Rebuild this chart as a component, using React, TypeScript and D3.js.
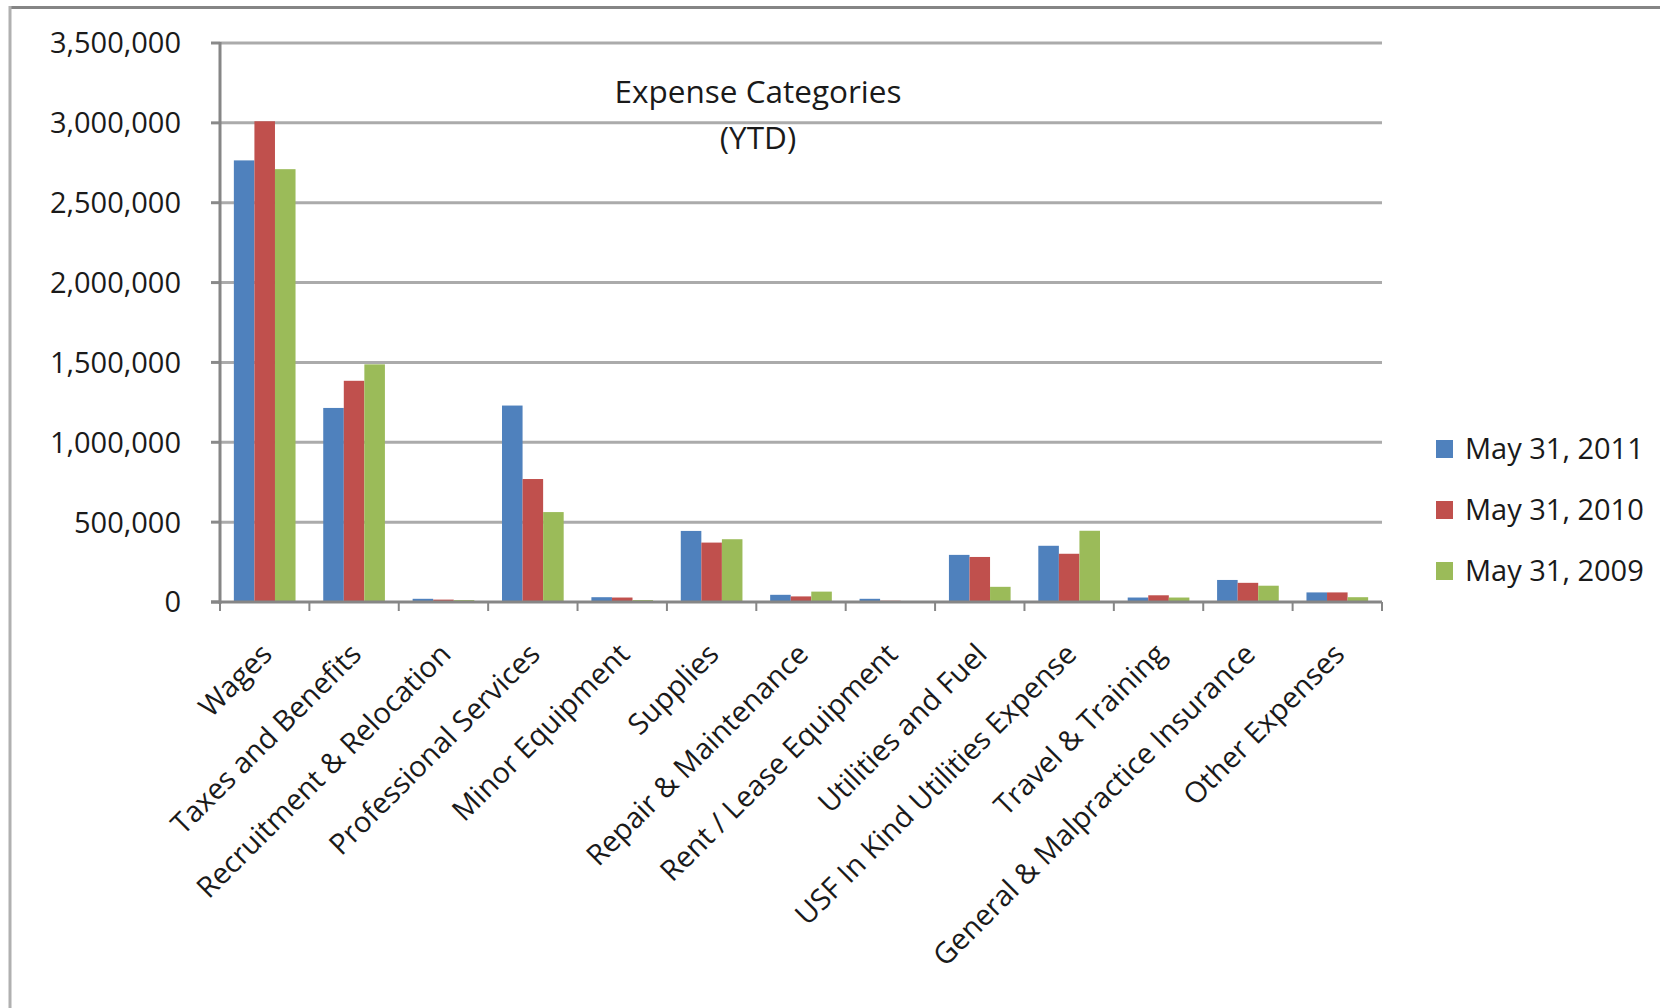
import React from "react";
import * as d3 from "d3";

const categories = [
  "Wages",
  "Taxes and Benefits",
  "Recruitment & Relocation",
  "Professional Services",
  "Minor Equipment",
  "Supplies",
  "Repair & Maintenance",
  "Rent / Lease Equipment",
  "Utilities and Fuel",
  "USF In Kind Utilities Expense",
  "Travel & Training",
  "General & Malpractice Insurance",
  "Other Expenses",
];

const seriesNames = ["May 31, 2011", "May 31, 2010", "May 31, 2009"];
const seriesColors = ["#4F81BD", "#C0504D", "#9BBB59"];

const may2011 = [2765000, 1215000, 20000, 1230000, 30000, 445000, 45000, 20000, 295000, 352000, 28000, 138000, 60000];
const may2010 = [3010000, 1385000, 15000, 770000, 28000, 372000, 35000, 8000, 282000, 302000, 42000, 120000, 60000];
const may2009 = [2710000, 1488000, 12000, 563000, 12000, 393000, 65000, 3000, 95000, 446000, 28000, 102000, 30000];

const seriesValues = [may2011, may2010, may2009];
const yTicks = [0, 500000, 1000000, 1500000, 2000000, 2500000, 3000000, 3500000];
const titleLines = ["Expense Categories", "(YTD)"];

const W = 1669;
const H = 1008;
const FONT = "'Open Sans', 'Noto Sans', sans-serif";

export default function App() {
  const plotLeft = 220;
  const plotRight = 1382;
  const plotTop = 43;
  const plotBottom = 602;

  const x0 = d3.scaleBand<string>().domain(categories).range([plotLeft, plotRight]).paddingInner(0).paddingOuter(0);
  const bw = x0.bandwidth();
  const x1 = d3
    .scaleBand<number>()
    .domain(seriesNames.map((_, i) => i))
    .range([bw * 0.155, bw * 0.845])
    .padding(0);
  const y = d3.scaleLinear().domain([0, 3500000]).range([plotBottom, plotTop]);
  const fmt = d3.format(",");

  const boundaries = categories.map((c) => x0(c) as number).concat([plotRight]);

  return (
    <svg
      width={W}
      height={H}
      viewBox={`0 0 ${W} ${H}`}
      style={{ position: "absolute", left: 0, top: 0, background: "#fff" }}
      fontFamily={FONT}
    >
      <rect x={0} y={0} width={W} height={H} fill="#fff" />
      {/* outer frame */}
      <line x1={9} x2={1660} y1={7.5} y2={7.5} stroke="#858585" strokeWidth={3} />
      <line x1={10} x2={10} y1={6} y2={1008} stroke="#b0b0b0" strokeWidth={3} />

      {/* gridlines and y ticks */}
      {yTicks.map((t) => (
        <g key={t}>
          {t > 0 && (
            <line x1={plotLeft} x2={plotRight} y1={y(t)} y2={y(t)} stroke="#ababab" strokeWidth={3} />
          )}
          <line x1={plotLeft - 9} x2={plotLeft} y1={y(t)} y2={y(t)} stroke="#8a8a8a" strokeWidth={3} />
          <text
            x={181}
            y={y(t)}
            dy="0.36em"
            textAnchor="end"
            fontSize={29}
            fill="#1a1a1a"
          >
            {fmt(t)}
          </text>
        </g>
      ))}

      {/* bars */}
      {categories.map((c, ci) => (
        <g key={c} transform={`translate(${x0(c)},0)`}>
          {seriesValues.map((vals, si) => (
            <rect
              key={si}
              x={x1(si) as number}
              y={y(vals[ci])}
              width={x1.bandwidth()}
              height={plotBottom - y(vals[ci])}
              fill={seriesColors[si]}
            />
          ))}
        </g>
      ))}

      {/* axes */}
      <line x1={plotLeft} x2={plotLeft} y1={plotTop - 1} y2={plotBottom + 2} stroke="#868686" strokeWidth={3} />
      <line x1={plotLeft - 9} x2={plotRight} y1={plotBottom} y2={plotBottom} stroke="#868686" strokeWidth={3} />
      {boundaries.map((bx, i) => (
        <line key={i} x1={bx} x2={bx} y1={plotBottom} y2={plotBottom + 9} stroke="#868686" strokeWidth={2} />
      ))}

      {/* category labels */}
      {categories.map((c) => {
        const cx = (x0(c) as number) + bw / 2;
        return (
          <text
            key={c}
            transform={`translate(${cx + 9},${656}) rotate(-45)`}
            textAnchor="end"
            fontSize={29}
            fill="#1a1a1a"
          >
            {c}
          </text>
        );
      })}

      {/* title */}
      <text x={758} y={103} textAnchor="middle" fontSize={31.5} fill="#1a1a1a">
        {titleLines[0]}
      </text>
      <text x={758} y={149} textAnchor="middle" fontSize={31.5} fill="#1a1a1a">
        {titleLines[1]}
      </text>

      {/* legend */}
      {seriesNames.map((s, i) => {
        const ly = 449 + i * 61;
        return (
          <g key={s}>
            <rect x={1436} y={ly - 9} width={17} height={18} fill={seriesColors[i]} />
            <text x={1465} y={ly} dy="0.36em" fontSize={29} fill="#1a1a1a">
              {s}
            </text>
          </g>
        );
      })}
    </svg>
  );
}
